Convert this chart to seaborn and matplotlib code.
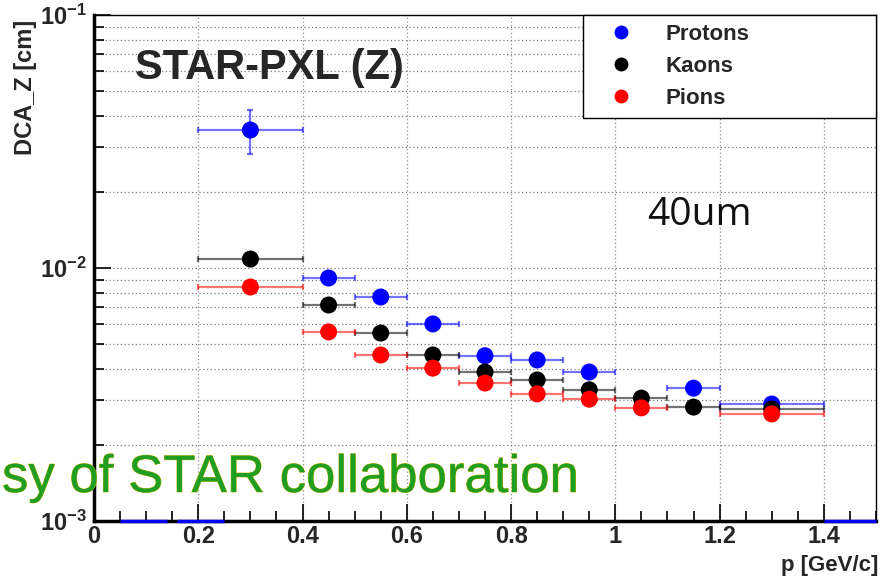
import numpy as np
import pandas as pd
import matplotlib
matplotlib.use("Agg")
import matplotlib.pyplot as plt
import matplotlib.patheffects as pe
from matplotlib.ticker import MultipleLocator, LogLocator, NullFormatter
import seaborn as sns

# ---------------- data ----------------
protons_p = [0.3, 0.45, 0.55, 0.65, 0.75, 0.85, 0.95, 1.15, 1.3]
protons_v = [0.0351, 0.00913, 0.00768, 0.00601, 0.00450, 0.00433, 0.00388, 0.00335, 0.00290]
protons_lo = [0.2, 0.4, 0.5, 0.6, 0.7, 0.8, 0.9, 1.1, 1.2]
protons_hi = [0.4, 0.5, 0.6, 0.7, 0.8, 0.9, 1.0, 1.2, 1.4]
protons_yerr = [0.0070, 0.0002, 0.0001, 0.0001, 0.0001, 0.0001, 0.0001, 0.0001, 0.0001]

kaons_p = [0.3, 0.45, 0.55, 0.65, 0.75, 0.85, 0.95, 1.05, 1.15, 1.3]
kaons_v = [0.01085, 0.00714, 0.00553, 0.00453, 0.00388, 0.00361, 0.00330, 0.00306, 0.00282, 0.00277]
kaons_lo = [0.2, 0.4, 0.5, 0.6, 0.7, 0.8, 0.9, 1.0, 1.1, 1.2]
kaons_hi = [0.4, 0.5, 0.6, 0.7, 0.8, 0.9, 1.0, 1.1, 1.2, 1.4]

pions_p = [0.3, 0.45, 0.55, 0.65, 0.75, 0.85, 0.95, 1.05, 1.3]
pions_v = [0.00841, 0.00559, 0.00453, 0.00402, 0.00351, 0.00318, 0.00303, 0.00280, 0.00265]
pions_lo = [0.2, 0.4, 0.5, 0.6, 0.7, 0.8, 0.9, 1.0, 1.2]
pions_hi = [0.4, 0.5, 0.6, 0.7, 0.8, 0.9, 1.0, 1.1, 1.4]

# empty proton bins drawn on the lower frame
empty_lo = [0.05, 0.16, 1.4]
empty_hi = [0.14, 0.25, 1.5]

x_ticks = [0, 0.2, 0.4, 0.6, 0.8, 1.0, 1.2, 1.4]
x_labels = ["0", "0.2", "0.4", "0.6", "0.8", "1", "1.2", "1.4"]
y_ticks = [1e-3, 1e-2, 1e-1]
y_labels = [r"$\mathbf{10^{-3}}$", r"$\mathbf{10^{-2}}$", r"$\mathbf{10^{-1}}$"]

series = [
    ("Protons", protons_p, protons_v, protons_lo, protons_hi, "#0000ff"),
    ("Kaons", kaons_p, kaons_v, kaons_lo, kaons_hi, "#000000"),
    ("Pions", pions_p, pions_v, pions_lo, pions_hi, "#ff0000"),
]

# ---------------- figure ----------------
sns.set_style("ticks")
plt.rcParams["font.family"] = ["Liberation Sans", "DejaVu Sans"]
plt.rcParams["mathtext.fontset"] = "custom"
plt.rcParams["mathtext.bf"] = "Liberation Sans:bold"
plt.rcParams["mathtext.rm"] = "Liberation Sans"

fig = plt.figure(figsize=(8.87, 5.77), dpi=100)
W, H = 887, 577
ax = fig.add_axes([94 / W, 1 - 521 / H, (876 - 94) / W, (521 - 15) / H])

frames = []
for name, px, pv, lo, hi, col in series:
    frames.append(pd.DataFrame({"p": px, "v": pv, "species": name}))
df = pd.concat(frames, ignore_index=True)

# error bars
for name, px, pv, lo, hi, col in series:
    xerr = [np.array(px) - np.array(lo), np.array(hi) - np.array(px)]
    yerr = protons_yerr if name == "Protons" else None
    ax.errorbar(px, pv, xerr=xerr, yerr=yerr, fmt="none", ecolor=col,
                elinewidth=1.6, alpha=0.55, capsize=2.5, capthick=1.6, zorder=3)

ax.hlines([1e-3] * len(empty_lo), empty_lo, empty_hi, colors="#0000ff",
          linewidth=2.5, zorder=5, clip_on=False)

palette = {name: col for name, *_, col in series}
sns.scatterplot(data=df, x="p", y="v", hue="species", palette=palette,
                s=150, edgecolor="none", ax=ax, zorder=4, legend=False)

ax.set_yscale("log")
ax.set_xlim(0, 1.5)
ax.set_ylim(1e-3, 1e-1)

# grid
ax.xaxis.set_major_locator(MultipleLocator(0.2))
ax.xaxis.set_minor_locator(MultipleLocator(0.05))
ax.yaxis.set_major_locator(LogLocator(base=10, numticks=10))
ax.yaxis.set_minor_locator(LogLocator(base=10, subs=np.arange(2, 10), numticks=20))
ax.yaxis.set_minor_formatter(NullFormatter())
ax.grid(True, which="major", axis="x", color="#8c8c8c", linestyle=(0, (1, 2)), linewidth=0.9)
ax.grid(True, which="both", axis="y", color="#7a7a7a", linestyle=(0, (1, 2)), linewidth=0.9)
ax.set_axisbelow(True)

ax.set_xticks(x_ticks)
ax.set_xticklabels(x_labels, fontsize=17, fontweight="bold")
ax.set_yticks(y_ticks)
ax.set_yticklabels(y_labels, fontsize=17)
ax.tick_params(axis="both", which="major", direction="in", length=12, width=1.2, color="black", pad=5)
ax.tick_params(axis="x", which="major", pad=3)
ax.tick_params(axis="both", which="minor", direction="in", length=7, width=1.2, color="black")
ax.tick_params(top=False, right=False, which="both")
ax.set_xlabel("")
ax.set_ylabel("")

for s in ax.spines.values():
    s.set_color("black")
    s.set_linewidth(1.0)
ax.spines["left"].set_linewidth(2.5)
ax.spines["bottom"].set_linewidth(2.5)

# axis titles
fig.text(878 / W, 1 - 565 / H, "p [GeV/c]", ha="right", va="center",
         fontsize=16, fontweight="bold")
fig.text(26 / W, 1 - 20 / H, "DCA_Z [cm]", ha="center", va="top",
         rotation=90, fontsize=17, fontweight="bold")

# legend
handles = [plt.Line2D([], [], marker="o", linestyle="none", markersize=10,
                      markerfacecolor=col, markeredgecolor="none", label=name)
           for name, *_, col in series]
leg = ax.legend(handles=handles, loc="upper left",
                bbox_to_anchor=((583 - 94) / 782, 1.0, (876 - 583) / 782, 0.0),
                mode="expand", borderaxespad=0, frameon=True, fancybox=False,
                prop={"weight": "bold", "size": 16}, handletextpad=0.7,
                labelspacing=0.5, borderpad=0.4, handlelength=2.6)
leg.get_frame().set_edgecolor("black")
leg.get_frame().set_linewidth(1.0)
leg.get_frame().set_alpha(1.0)

# annotations
fig.text(135 / W, 1 - 68 / H, "STAR-PXL (Z)", ha="left", va="center",
         fontsize=30, fontweight="bold")
fig.text(699 / W, 1 - 215 / H, "40um", ha="center", va="center",
         fontsize=28, family=["Open Sans", "DejaVu Sans"], color="#111111")
fig.text(2 / W, 1 - 478 / H, "sy of STAR collaboration", ha="left", va="center",
         fontsize=38, color="#1f9e22",
         path_effects=[pe.withStroke(linewidth=0.6, foreground="#c9b200")])

fig.savefig("out.png", dpi=100)
